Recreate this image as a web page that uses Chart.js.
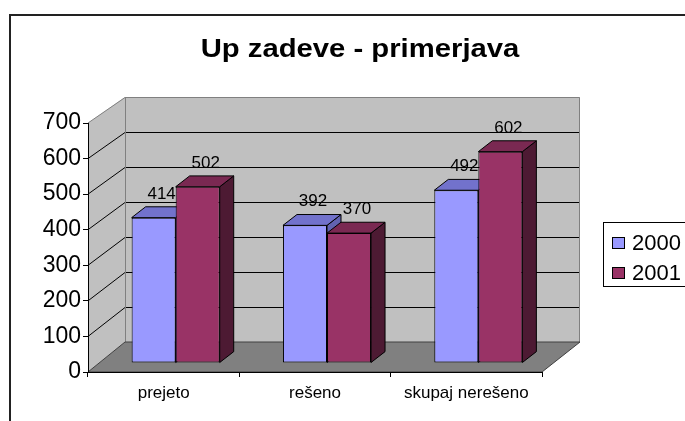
<!DOCTYPE html>
<html>
<head>
<meta charset="utf-8">
<title>Up zadeve - primerjava</title>
<script src="https://cdn.jsdelivr.net/npm/chart.js@4/dist/chart.umd.min.js"></script>
<style>
  html, body { margin: 0; padding: 0; background: #fff; }
  canvas { display: block; }
</style>
</head>
<body>
<canvas id="chart" width="685" height="421"></canvas>
<script>
// values
const chartTitle  = 'Up zadeve - primerjava';
const categories  = ['prejeto', 'rešeno', 'skupaj nerešeno'];
const seriesNames = ['2000', '2001'];
const values2000  = [414, 392, 492];
const values2001  = [502, 370, 602];
const yTicks      = [0, 100, 200, 300, 400, 500, 600, 700];

const FONT = 'Arial, "Liberation Sans", sans-serif';

// front / top / side shades per series (Excel default palette)
const shades = [
  { front: '#9999ff', top: '#7272cc', side: '#6262b0' },
  { front: '#993366', top: '#7a2952', side: '#4d1a33' },
];

// ── 3D geometry (pixels) ────────────────────────────────────────────────
const WALL = { dx: 37, dy: -30, shrink: 245 / 249 };
const BAR  = { dx: 12, dy: -9, scaleY: 0.987, depthX: 14, depthY: -11 };

function backY(chart, v) {
  const a = chart.chartArea;
  const yf = chart.scales.y.getPixelForValue(v);
  return a.bottom + WALL.dy + (yf - a.bottom) * WALL.shrink;
}

function poly(ctx, pts, fill, stroke) {
  ctx.beginPath();
  ctx.moveTo(pts[0][0], pts[0][1]);
  for (let i = 1; i < pts.length; i++) ctx.lineTo(pts[i][0], pts[i][1]);
  ctx.closePath();
  if (fill)   { ctx.fillStyle = fill; ctx.fill(); }
  if (stroke) { ctx.strokeStyle = stroke; ctx.stroke(); }
}

const excel3d = {
  id: 'excel3d',

  // walls, floor and back gridlines go under the axes
  beforeDraw(chart) {
    const { ctx, chartArea: a } = chart;
    const yMax = yTicks[yTicks.length - 1];
    ctx.save();
    ctx.fillStyle = '#fff';
    ctx.fillRect(0, 0, chart.width, chart.height);

    // outer frame (right/bottom edges fall outside the picture)
    ctx.strokeStyle = '#222';
    ctx.lineWidth = 2;
    ctx.strokeRect(10, 15, chart.width + 20, chart.height + 20);

    ctx.lineWidth = 1;
    const bx0 = a.left + WALL.dx, bx1 = a.right + WALL.dx + 1;
    const bTop = backY(chart, yMax), bBot = backY(chart, 0);

    // back wall + left wall
    poly(ctx, [[bx0, bTop], [bx1, bTop], [bx1, bBot], [bx0, bBot]], '#c0c0c0');
    poly(ctx, [[a.left, a.bottom], [a.left, a.top], [bx0, bTop], [bx0, bBot]], '#c0c0c0');

    // gridlines on both walls
    ctx.strokeStyle = '#000';
    yTicks.forEach(v => {
      if (v === 0 || v === yMax) return;
      const yb = Math.round(backY(chart, v)) + 0.5;
      const yf = chart.scales.y.getPixelForValue(v);
      ctx.beginPath();
      ctx.moveTo(bx0, yb); ctx.lineTo(bx1, yb);
      ctx.moveTo(a.left, yf); ctx.lineTo(bx0, yb);
      ctx.stroke();
    });

    // wall outlines
    ctx.strokeStyle = '#808080';
    ctx.beginPath();
    ctx.moveTo(a.left, a.top); ctx.lineTo(bx0, bTop + 0.5);
    ctx.lineTo(bx1 - 0.5, bTop + 0.5); ctx.lineTo(bx1 - 0.5, bBot);
    ctx.moveTo(bx0 + 0.5, bTop); ctx.lineTo(bx0 + 0.5, bBot);
    ctx.stroke();

    // floor
    poly(ctx, [[a.left, a.bottom], [a.right, a.bottom], [bx1, bBot], [bx0, bBot]], '#808080', '#404040');
    ctx.restore();
  },

  // labels, then bar tops and sides; Chart.js paints the fronts afterwards
  beforeDatasetsDraw(chart) {
    const { ctx, chartArea: a } = chart;
    ctx.save();
    ctx.translate(BAR.dx, a.bottom + BAR.dy);
    ctx.scale(1, BAR.scaleY);
    ctx.translate(0, -a.bottom);

    ctx.font = '17px ' + FONT;
    ctx.fillStyle = '#000';
    ctx.textAlign = 'center';
    ctx.textBaseline = 'middle';
    chart.data.datasets.forEach((ds, i) => {
      chart.getDatasetMeta(i).data.forEach((bar, j) => {
        const p = bar.getProps(['x', 'y'], true);
        ctx.fillText(String(ds.data[j]), p.x + 8, p.y - 24);
      });
    });

    ctx.lineWidth = 1;
    chart.data.datasets.forEach((ds, i) => {
      chart.getDatasetMeta(i).data.forEach(bar => {
        const { x, y, base, width } = bar.getProps(['x', 'y', 'base', 'width'], true);
        const x0 = x - width / 2, x1 = x + width / 2;
        const dx = BAR.depthX, dy = BAR.depthY;
        poly(ctx, [[x1, y], [x1 + dx, y + dy], [x1 + dx, base + dy], [x1, base]], shades[i].side, '#000');
        poly(ctx, [[x0, y], [x1, y], [x1 + dx, y + dy], [x0 + dx, y + dy]], shades[i].top, '#000');
      });
    });
  },

  afterDatasetsDraw(chart) {
    chart.ctx.restore();
  },

  // title and boxed legend
  afterDraw(chart) {
    const ctx = chart.ctx;
    ctx.save();
    ctx.fillStyle = '#000';
    ctx.font = 'bold 25px ' + FONT;
    ctx.textAlign = 'center';
    ctx.textBaseline = 'alphabetic';
    ctx.translate(360, 57);
    ctx.scale(1.17, 1);
    ctx.fillText(chartTitle, 0, 0);
    ctx.restore();

    ctx.save();
    ctx.lineWidth = 1;
    ctx.strokeStyle = '#000';
    ctx.strokeRect(603.5, 222.5, 120, 64);
    ctx.font = '22px ' + FONT;
    ctx.textAlign = 'left';
    ctx.textBaseline = 'middle';
    chart.data.datasets.forEach((ds, i) => {
      const cy = 243 + i * 30;
      ctx.fillStyle = shades[i].front;
      ctx.fillRect(612, cy - 6, 13, 12);
      ctx.strokeRect(612.5, cy - 5.5, 12, 11);
      ctx.fillStyle = '#000';
      ctx.fillText(ds.label, 632, cy + 1);
    });
    ctx.restore();
  },
};

new Chart(document.getElementById('chart'), {
  type: 'bar',
  data: {
    labels: categories,
    datasets: [
      { label: seriesNames[0], data: values2000, backgroundColor: shades[0].front },
      { label: seriesNames[1], data: values2001, backgroundColor: shades[1].front },
    ],
  },
  options: {
    responsive: false,
    animation: false,
    events: [],
    layout: { padding: { top: 123, right: 143, bottom: 0, left: 0 } },
    datasets: {
      bar: {
        borderColor: '#000',
        borderWidth: 1,
        borderSkipped: false,
        categoryPercentage: 0.582,
        barPercentage: 1.0,
        clip: false,
      },
    },
    plugins: {
      legend:  { display: false },
      title:   { display: false },
      tooltip: { enabled: false },
    },
    scales: {
      x: {
        offset: true,
        grid:   { offset: true, drawOnChartArea: false, tickLength: 5, color: '#000' },
        border: { color: '#000', width: 1 },
        ticks:  { color: '#000', font: { family: FONT, size: 17 }, padding: 6, maxRotation: 0 },
        afterFit: s => { s.height = 49; },
      },
      y: {
        min: 0,
        max: 700,
        afterBuildTicks: s => { s.ticks = yTicks.map(v => ({ value: v })); },
        grid:   { drawOnChartArea: false, tickLength: 5, color: '#000' },
        border: { color: '#000', width: 1 },
        ticks:  { color: '#000', font: { family: FONT, size: 23 }, padding: 2 },
        afterFit: s => { s.width = 88; },
      },
    },
  },
  plugins: [excel3d],
});
</script>
</body>
</html>
